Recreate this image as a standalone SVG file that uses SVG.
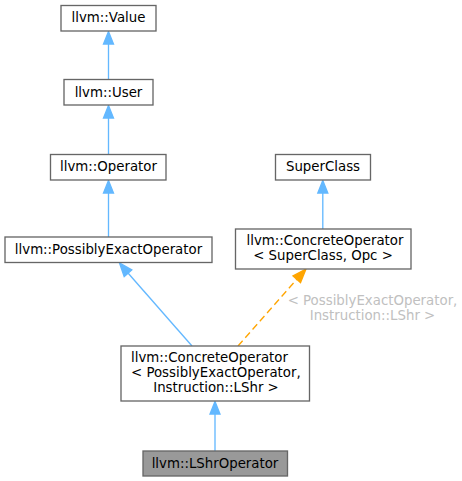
<svg xmlns="http://www.w3.org/2000/svg" width="462" height="481" viewBox="0 0 462 481">
<style>
.box{fill:#ffffff;stroke:#666666;stroke-width:1.33}
.cur{fill:#999999;stroke:#666666;stroke-width:1.33}
text{font-family:"DejaVu Sans","Noto Sans",sans-serif;font-size:13.33px;fill:#000000}
.m{text-anchor:middle}
.s{text-anchor:start}
.lbl{fill:#c0c0c0;text-anchor:middle}
.e{fill:none;stroke:#63b8ff;stroke-width:1.33}
.ah{fill:#63b8ff;stroke:#63b8ff;stroke-width:1.33}
.ed{fill:none;stroke:#ffa500;stroke-width:1.33;stroke-dasharray:7,4}
.ao{fill:#ffa500;stroke:#ffa500;stroke-width:1.33}
</style>
<rect width="462" height="481" fill="#ffffff"/>
<g id="connectors">
<line class="e" x1="108.5" y1="79" x2="108.5" y2="44"/>
<polygon class="ah" points="108.5,31.5 103.5,44 113.5,44"/>
<line class="e" x1="108.5" y1="154" x2="108.5" y2="118"/>
<polygon class="ah" points="108.5,105.5 103.5,118 113.5,118"/>
<line class="e" x1="108.5" y1="237" x2="108.5" y2="193"/>
<polygon class="ah" points="108.5,180.5 103.5,193 113.5,193"/>
<line class="e" x1="322.8" y1="229" x2="322.8" y2="193"/>
<polygon class="ah" points="322.8,180.5 317.8,193 327.8,193"/>
<line class="e" x1="192" y1="346" x2="128" y2="273"/>
<polygon class="ah" points="119.5,263 124.2,276.6 131.8,269.9"/>
<line class="e" x1="215" y1="451" x2="215" y2="414"/>
<polygon class="ah" points="215,401.5 210,414 220,414"/>
<line class="ed" x1="238" y1="346" x2="297" y2="279"/>
<polygon class="ao" points="306,269 293,276 300.5,282.6"/>
<text class="lbl" x="372.5" y="305">&lt; PossiblyExactOperator,</text>
<text class="lbl" x="372.5" y="320">Instruction::LShr &gt;</text>
</g>
<g id="node-value">
<rect class="box" x="61" y="5.5" width="95" height="25.5"/>
<text class="m" x="108.5" y="22">llvm::Value</text>
</g>
<g id="node-user">
<rect class="box" x="64" y="79.5" width="89" height="25.5"/>
<text class="m" x="108.5" y="96.5">llvm::User</text>
</g>
<g id="node-operator">
<rect class="box" x="50.5" y="154.5" width="115.5" height="25.5"/>
<text class="m" x="108.5" y="171">llvm::Operator</text>
</g>
<g id="node-possiblyexact">
<rect class="box" x="5" y="237" width="207" height="25.5"/>
<text class="m" x="108.5" y="254">llvm::PossiblyExactOperator</text>
</g>
<g id="node-superclass">
<rect class="box" x="275.5" y="154.5" width="95" height="25.5"/>
<text class="m" x="323" y="171">SuperClass</text>
</g>
<g id="node-concrete-sc">
<rect class="box" x="235.5" y="229" width="175.5" height="40"/>
<text class="s" x="246.5" y="244.5">llvm::ConcreteOperator</text>
<text class="m" x="323" y="259.5">&lt; SuperClass, Opc &gt;</text>
</g>
<g id="node-concrete-peo">
<rect class="box" x="121" y="346" width="188.5" height="55"/>
<text class="s" x="131" y="362">llvm::ConcreteOperator</text>
<text class="s" x="131" y="377">&lt; PossiblyExactOperator,</text>
<text class="m" x="216" y="391.5">Instruction::LShr &gt;</text>
</g>
<g id="node-lshr">
<rect class="cur" x="143" y="451" width="144.5" height="25"/>
<text class="m" x="215" y="468">llvm::LShrOperator</text>
</g>
</svg>
